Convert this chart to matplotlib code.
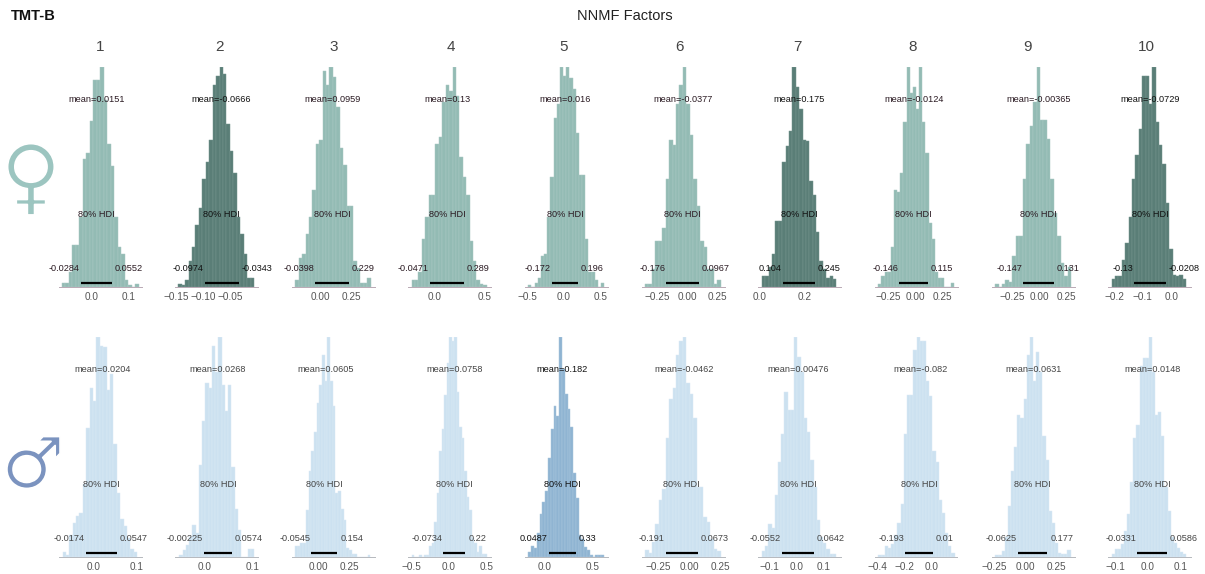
import matplotlib
matplotlib.use('Agg')
import matplotlib.pyplot as plt
import matplotlib.patheffects as pe
import numpy as np

plt.rcParams['font.family'] = ['Liberation Sans', 'DejaVu Sans']

factors = ['1', '2', '3', '4', '5', '6', '7', '8', '9', '10']

# female row, heights are read as a fraction of the tallest bar
f_mean = [0.0151, -0.0666, 0.0959, 0.13, 0.016, -0.0377, 0.175, -0.0124, -0.00365, -0.0729]
f_low = [-0.0284, -0.0974, -0.0398, -0.0471, -0.172, -0.176, 0.104, -0.146, -0.147, -0.13]
f_high = [0.0552, -0.0343, 0.229, 0.289, 0.196, 0.0967, 0.245, 0.115, 0.131, -0.0208]
f_xlim = [(-0.0865, 0.135), (-0.152, 0.0), (-0.226, 0.435), (-0.27, 0.56), (-0.54, 0.6),
          (-0.38, 0.31), (-0.005, 0.357), (-0.37, 0.39), (-0.435, 0.324), (-0.221, 0.066)]
f_range = [(-0.079, 0.127), (-0.146, -0.0065), (-0.2, 0.403), (-0.233, 0.52), (-0.496, 0.556),
           (-0.356, 0.28), (0.012, 0.339), (-0.34, 0.355), (-0.407, 0.293), (-0.208, 0.0507)]
f_ticks = [[0.0, 0.1], [-0.15, -0.10, -0.05], [0.0, 0.25], [0.0, 0.5], [-0.5, 0.0, 0.5],
           [-0.25, 0.0, 0.25], [0.0, 0.2], [-0.25, 0.0, 0.25], [-0.25, 0.0, 0.25], [-0.2, -0.1, 0.0]]
f_heights = [
    [.02, .02, .07, .19, .19, .32, .58, .61, .755, .94, .94, 1, .85, .65, .55, .32, .18, .15, .03, .01, 0, .015],
    [.015, .01, .03, .12, .18, .28, .36, .49, .57, .67, .92, .96, 1, .97, .74, .62, .52, .32, .24, .15, .04, .04],
    [.03, .13, .15, .24, .32, .44, .65, .67, .98, .92, 1, .955, .82, .63, .555, .37, .37, .116, .086, .018, .018, .04],
    [.03, .03, .07, .22, .32, .42, .42, .65, .68, .84, .92, .89, 1, .87, .59, .5, .42, .21, .12, .03, .015, .01],
    [.01, 0, .02, .04, .14, .15, .32, .5, .77, .83, 1, .96, 1, .95, .9, .7, .51, .51, .22, .07, .07, .03, 0, .02],
    [.015, .015, .08, .21, .21, .27, .49, .67, .645, .83, .92, 1, .83, .69, .49, .37, .21, .18, .08, .08, .015, .03],
    [.05, .05, .09, .15, .3, .3, .57, .64, .71, 1, .91, .81, .67, .665, .48, .42, .25, .12, .08, .04, .05, .035],
    [.015, .05, .07, .07, .18, .44, .43, .52, .75, 1, .88, .91, .81, 1, .75, .61, .29, .22, .07, .04, .04, 0, 0, .02],
    [.015, 0, .015, .03, .025, .14, .23, .23, .49, .65, .73, .84, 1, .76, .76, .675, .49, .335, .23, .11, .05, .09],
    [.035, .05, .05, .125, .2, .32, .49, .6, .72, .96, .96, .83, 1, .75, .645, .56, .38, .175, .055, .05, .055, .035],
]
f_strong = [1, 6, 9]

# male row
m_mean = [0.0204, 0.0268, 0.0605, 0.0758, 0.182, -0.0462, 0.00476, -0.082, 0.0631, 0.0148]
m_low = [-0.0174, -0.00225, -0.0545, -0.0734, 0.0487, -0.191, -0.0552, -0.193, -0.0625, -0.0331]
m_high = [0.0547, 0.0574, 0.154, 0.22, 0.33, 0.0673, 0.0642, 0.01, 0.177, 0.0586]
m_xlim = [(-0.081, 0.112), (-0.0625, 0.11), (-0.21, 0.452), (-0.54, 0.553), (-0.198, 0.656),
          (-0.38, 0.282), (-0.142, 0.16), (-0.415, 0.193), (-0.27, 0.395), (-0.123, 0.132)]
m_range = [(-0.0728, 0.1016), (-0.0535, 0.103), (-0.185, 0.419), (-0.49, 0.504), (-0.163, 0.618),
           (-0.355, 0.25), (-0.128, 0.144), (-0.39, 0.172), (-0.242, 0.363), (-0.112, 0.119)]
m_ticks = [[0.0, 0.1], [0.0, 0.1], [0.0, 0.25], [-0.5, 0.0, 0.5], [0.0, 0.5],
           [-0.25, 0.0, 0.25], [-0.1, 0.0, 0.1], [-0.4, -0.2, 0.0], [-0.25, 0.0, 0.25], [-0.1, 0.0, 0.1]]
m_heights = [
    [.025, .01, .1, .155, .185, .2, .33, .585, .77, .71, 1, .96, .955, .76, .83, .515, .29, .175, .14, .085, .035, .025],
    [.008, .033, .055, .09, .145, .11, .42, .62, .79, .77, .96, .84, 1, .78, .665, .78, .41, .22, .125, 0, 0, .035, .035],
    [.05, .05, .065, .065, .215, .39, .48, .57, .7, .78, .92, .8, 1, .8, .685, .29, .3, .22, .17, .04, .03, .015, .015, 0, 0, 0, 0, .01],
    [.01, 0, 0, .008, 0, .008, .008, .05, .065, .16, .29, .48, .58, .735, .88, 1, .98, 1, .75, .59, .54, .39, .275, .215, .085, .065, .025, .05, .015, .012],
    [.025, .05, .04, .11, .195, .25, .3, .45, .58, .685, .64, 1, .855, .74, .675, .59, .38, .27, .1, .08, .045, .03, .008, 0, .01, .01, .01],
    [.03, .018, .07, .15, .26, .31, .54, .72, .77, .92, .98, 1, .79, .74, .63, .32, .32, .18, .16, .08, .036, .026],
    [.026, .05, .15, .13, .28, .43, .56, .75, .67, .67, 1, .91, .84, .63, .57, .44, .32, .17, .09, .065, .036, .015, .012],
    [.01, .01, .05, .04, .06, .1, .155, .24, .56, .735, .735, .94, 1, .98, .98, .8, .73, .48, .43, .26, .2, .11, .05, .02],
    [.008, .01, .026, .09, .23, .39, .5, .645, .63, .72, .92, 1, .8, .93, .84, .55, .44, .21, .155, .065, .018, .015, .015, .03],
    [.015, .036, .036, .06, .12, .195, .34, .54, .6, .87, .905, .905, 1, .84, .645, .66, .55, .32, .21, .09, .065, .04, .025, .015],
]
m_strong = [4]

W = 1205
H = 574
col_left = [59, 175, 292, 408, 525, 642, 758, 875, 992, 1108]
col_width = 82.5
title_x = [100, 219, 334, 451, 564, 679, 797, 913, 1028, 1146]


def draw_row(top, bottom, mean, low, high, xlim, rng, ticks, heights, strong, light, dark, edge, edge_strong, line, txt, txt_strong, titles):
    for i in range(10):
        ax = fig.add_axes([col_left[i] / W, 1 - bottom / H, col_width / W, (bottom - top) / H])
        edges = np.linspace(rng[i][0], rng[i][1], len(heights[i]) + 1)
        is_strong = i in strong
        ax.bar(edges[:-1], heights[i], width=np.diff(edges), align='edge',
               color=dark if is_strong else light, edgecolor=edge_strong if is_strong else edge, linewidth=0.35)
        ax.set_xlim(xlim[i])
        ax.set_ylim(0, 1)
        ax.set_yticks([])
        ax.set_xticks(ticks[i])
        ax.tick_params(axis='x', length=0, pad=3.5, labelsize=7.2, labelcolor='#555555')
        for s in ['top', 'left', 'right']:
            ax.spines[s].set_visible(False)
        ax.spines['bottom'].set_color(line)
        ax.spines['bottom'].set_linewidth(0.7)
        ax.patch.set_alpha(0)

        c = txt_strong if is_strong else txt
        tr = ax.get_xaxis_transform()
        ax.plot([low[i], high[i]], [0.02, 0.02], color='black', lw=1.6, transform=tr,
                solid_capstyle='butt', clip_on=False)
        ax.text(mean[i], 0.85, 'mean=%.3g' % mean[i], ha='center', va='center', fontsize=6.6, color=c, transform=tr)
        ax.text((low[i] + high[i]) / 2, 0.328, '80% HDI', ha='center', va='center', fontsize=6.6, color=c, transform=tr)
        ax.annotate('%.3g' % low[i], (low[i], 0.082), xycoords=tr, xytext=(-0.8, 0), textcoords='offset points',
                    ha='right', va='center', fontsize=6.6, color=c)
        ax.annotate('%.3g' % high[i], (high[i], 0.082), xycoords=tr, xytext=(2, 0), textcoords='offset points',
                    ha='left', va='center', fontsize=6.6, color=c)
        if titles:
            fig.text(title_x[i] / W, 1 - 47 / H, factors[i], ha='center', va='center',
                     fontsize=11, color='#444444')


fig = plt.figure(figsize=(W / 100, H / 100), dpi=100, facecolor='white')

draw_row(67, 287, f_mean, f_low, f_high, f_xlim, f_range, f_ticks, f_heights, f_strong,
         '#93BBB4', '#5A7E77', '#a9c9c4', '#75958f', '#b9a9b4', '#2a1a22', '#111111', True)
draw_row(337, 557, m_mean, m_low, m_high, m_xlim, m_range, m_ticks, m_heights, m_strong,
         '#CCE1F0', '#8FB4D2', '#dbeaf5', '#a9c6de', '#b5b8bd', '#444444', '#111111', False)

fig.text(624.5 / W, 1 - 16 / H, 'NNMF Factors', ha='center', va='center', fontsize=10.5, color='#222222')
fig.text(11 / W, 1 - 16 / H, 'TMT-B', ha='left', va='center', fontsize=10.5, fontweight='bold', color='#111111')

# DejaVu has the right shape for these but is heavier, so thin it with a white outline
thin = [pe.Stroke(linewidth=1.3, foreground='white')]
fig.text(31 / W, 1 - 181 / H, '\u2640', ha='center', va='center', fontsize=60,
         family='DejaVu Sans', color='#9CC5C0', path_effects=thin)
fig.text(33 / W, 1 - 468 / H, '\u2642', ha='center', va='center', fontsize=51,
         family='DejaVu Sans', color='#7B93BF', path_effects=thin)

fig.savefig('out.png', dpi=100)
